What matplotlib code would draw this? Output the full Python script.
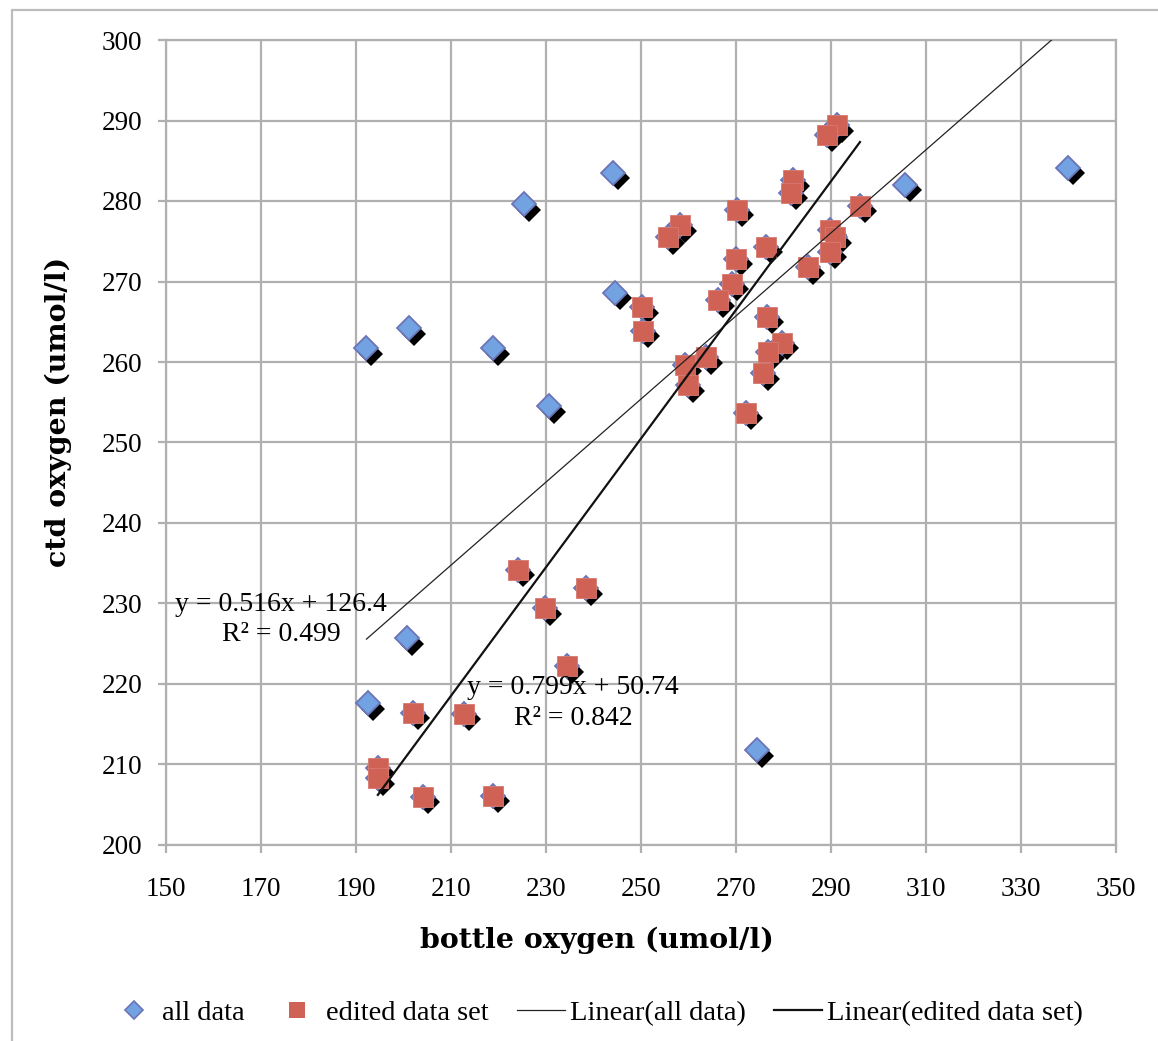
import matplotlib

matplotlib.use("Agg")

import matplotlib.pyplot as plt
import numpy as np
from matplotlib.lines import Line2D
from matplotlib.patches import Rectangle
from matplotlib.transforms import ScaledTranslation

# points kept only in "all data" (removed from the edited set)
outlier_x = [192.2, 201.2, 218.8, 230.6, 225.4, 244.1, 244.5, 200.7, 192.5, 274.4, 305.6, 339.9]
outlier_y = [261.7, 264.2, 261.7, 254.5, 279.6, 283.5, 268.6, 225.7, 217.6, 211.8, 282.0, 284.1]

# edited data set (bottle oxygen, ctd oxygen)
edited_x = [291.3, 289.2, 282.0, 281.6, 270.2, 258.2, 255.7, 296.1, 289.8, 290.8,
            289.8, 276.3, 270.0, 285.2, 269.2, 266.2, 250.2, 250.4, 276.5, 279.7,
            276.7, 275.7, 263.7, 259.3, 259.9, 272.1, 224.1, 229.8, 238.4, 234.4,
            202.0, 212.7, 194.6, 194.6, 204.1, 218.8]
edited_y = [289.4, 288.2, 282.6, 281.0, 278.9, 277.0, 275.5, 279.4, 276.4, 275.5,
            273.7, 274.3, 272.8, 271.8, 269.7, 267.7, 266.8, 263.9, 265.6, 262.4,
            261.2, 258.6, 260.6, 259.6, 257.1, 253.7, 234.2, 229.4, 231.9, 222.2,
            216.4, 216.3, 209.6, 208.3, 206.0, 206.1]

all_x = outlier_x + edited_x
all_y = outlier_y + edited_y

# trendline coefficients as printed on the chart
fit_all = (0.516, 126.4, 0.499)
fit_edited = (0.799, 50.74, 0.842)

x_ticks = list(range(150, 351, 20))
y_ticks = list(range(200, 301, 10))

SERIF = "Liberation Serif"
TITLE = "DejaVu Serif"
GRID = "#b0b0b0"

fig = plt.figure(figsize=(11.58, 10.41), dpi=100)
ax = fig.add_axes([166 / 1158, 1 - 845 / 1041, 950 / 1158, 805 / 1041])

ax.set_xlim(150, 350)
ax.set_ylim(200, 300)
ax.set_xticks(x_ticks)
ax.set_yticks(y_ticks)
ax.grid(True, color=GRID, linewidth=1.6)
ax.set_axisbelow(True)
for side in ax.spines.values():
    side.set_color(GRID)
    side.set_linewidth(1.6)
ax.tick_params(axis="both", color=GRID, width=1.6, length=6, direction="out",
               labelsize=19.5)
ax.tick_params(axis="y", pad=11)
ax.tick_params(axis="x", pad=17)
for lab in ax.get_xticklabels() + ax.get_yticklabels():
    lab.set_fontfamily(SERIF)

# drop shadow for the diamonds
shadow = ax.transData + ScaledTranslation(0.05, -0.055, fig.dpi_scale_trans)
ax.plot(all_x, all_y, linestyle="none", marker="D", markersize=12,
        color="black", markeredgewidth=0, transform=shadow, zorder=2)
ax.plot(all_x, all_y, linestyle="none", marker="D", markersize=12,
        markerfacecolor="#72a2e2", markeredgecolor="#6a74b6",
        markeredgewidth=1.3, zorder=3)
ax.plot(edited_x, edited_y, linestyle="none", marker="s", markersize=14.5,
        markerfacecolor="#cf6155", markeredgecolor="#d87a70",
        markeredgewidth=0.6, zorder=4)

# linear trendlines over the range of each series
xa = np.array([min(all_x), max(all_x)])
ax.plot(xa, fit_all[0] * xa + fit_all[1], color="#222222", linewidth=0.9, zorder=5)
xe = np.array([min(edited_x), max(edited_x)])
ax.plot(xe, fit_edited[0] * xe + fit_edited[1], color="#111111", linewidth=1.6, zorder=5)

ax.text(174.2, 228.0, f"y = {fit_all[0]}x + {fit_all[1]}\nR\u00b2 = {fit_all[2]}",
        ha="center", va="center", multialignment="center", fontsize=20,
        family=SERIF, linespacing=1.3, zorder=6)
ax.text(235.7, 217.6, f"y = {fit_edited[0]}x + {fit_edited[1]}\nR\u00b2 = {fit_edited[2]}",
        ha="center", va="center", multialignment="center", fontsize=20,
        family=SERIF, linespacing=1.3, zorder=6)

fig.text(597 / 1158, 1 - 940 / 1041, "bottle oxygen (umol/l)", ha="center", va="center",
         fontsize=20.5, fontweight="bold", family=TITLE)
fig.text(58 / 1158, 1 - 412 / 1041, "ctd oxygen (umol/l)", ha="center", va="center",
         rotation=90, fontsize=20.5, fontweight="bold", family=TITLE)

handles = [
    Line2D([], [], linestyle="none", marker="D", markersize=9,
           markerfacecolor="#72a2e2", markeredgecolor="#6a74b6", markeredgewidth=1.2),
    Line2D([], [], linestyle="none", marker="s", markersize=12,
           markerfacecolor="#cf6155", markeredgewidth=0),
    Line2D([], [], color="#222222", linewidth=0.9),
    Line2D([], [], color="#111111", linewidth=1.6),
]
labels = ["all data", "edited data set", "Linear(all data)", "Linear(edited data set)"]
fig.legend(handles, labels, loc="center", bbox_to_anchor=(596 / 1158, 1 - 1013 / 1041),
           ncol=4, frameon=False, prop={"family": SERIF, "size": 20.5},
           handlelength=1.7, handletextpad=0.15, columnspacing=1.0)

# outer chart border (cropped at right and bottom)
fig.patches.append(Rectangle((12 / 1158, -0.01), 1.1, 1 - 10 / 1041 + 0.01,
                             transform=fig.transFigure, fill=False,
                             edgecolor="#bdbdbd", linewidth=1.6))

fig.savefig("out.png", dpi=100, facecolor="white")
